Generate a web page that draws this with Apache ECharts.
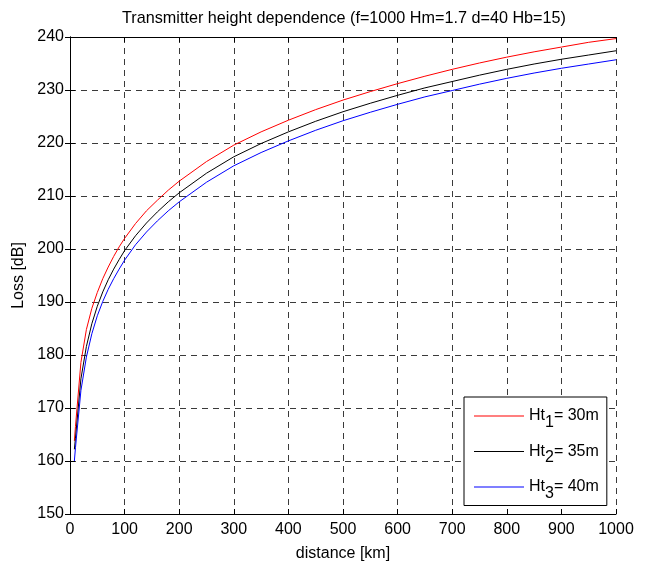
<!DOCTYPE html>
<html>
<head>
<meta charset="utf-8">
<script src="https://cdn.jsdelivr.net/npm/echarts@6/dist/echarts.min.js"></script>
<style>
  html, body { margin: 0; padding: 0; background: #fff; }
  #chart { width: 649px; height: 567px; }
</style>
</head>
<body>
<div id="chart"></div>
<script>
// Distance samples [km]
const distance = [8, 10, 20, 30, 40, 50, 60, 70, 80, 90, 100, 120, 140, 160, 180, 200,
  250, 300, 350, 400, 450, 500, 550, 600, 650, 700, 750, 800, 850, 900, 950, 1000];

// Path loss [dB] for each transmitter height
const lossHt30 = [163.8, 166.5, 178.6, 184.8, 188.8, 191.8, 194.4, 196.6, 198.6, 200.4, 202.0,
  204.8, 207.2, 209.2, 211.1, 212.8, 216.5, 219.6, 222.1, 224.3, 226.3, 228.1, 229.7, 231.2,
  232.6, 233.9, 235.1, 236.2, 237.2, 238.1, 239.0, 239.7];
const lossHt35 = [162.2, 164.3, 175.5, 181.6, 185.9, 189.2, 191.9, 194.2, 196.2, 198.0, 199.7,
  202.5, 204.9, 207.0, 208.9, 210.6, 214.3, 217.4, 219.9, 222.1, 224.1, 225.9, 227.5, 229.0,
  230.4, 231.6, 232.8, 233.9, 234.9, 235.8, 236.6, 237.4];
const lossHt40 = [160.0, 162.5, 173.3, 179.6, 184.0, 187.4, 190.1, 192.4, 194.4, 196.2, 197.9,
  200.8, 203.2, 205.3, 207.2, 208.9, 212.6, 215.7, 218.2, 220.4, 222.4, 224.2, 225.8, 227.3,
  228.7, 229.9, 231.1, 232.2, 233.2, 234.1, 234.9, 235.7];

// Legend entries: transmitter height label, subscript index, value
const seriesNames = ['Ht1= 30m', 'Ht2= 35m', 'Ht3= 40m'];
const seriesColors = ['#ff0000', '#000000', '#0000ff'];
const seriesData = [lossHt30, lossHt35, lossHt40];

const titleText = 'Transmitter height dependence (f=1000 Hm=1.7 d=40 Hb=15)';
const xName = 'distance [km]';
const yName = 'Loss [dB]';

const FONT = '"Liberation Sans", Arial, sans-serif';
const FS = 16;

const chart = echarts.init(document.getElementById('chart'), null, { renderer: 'canvas' });

const gridLine = { show: true, lineStyle: { color: '#3a3a3a', width: 1, type: [6, 5] } };
const tickIn = { show: true, inside: true, length: 5, lineStyle: { color: '#000' } };
const axisLine = { show: true, lineStyle: { color: '#000', width: 1 } };
const labelStyle = { color: '#000', fontSize: FS, fontFamily: FONT };

// "Ht1= 30m" -> "Ht" + subscript "1" + "= 30m"
const subFormat = n => n.replace(/^Ht(\d)/, 'Ht{s|$1}');

chart.setOption({
  animation: false,
  backgroundColor: '#fff',
  title: {
    text: titleText,
    left: 339, top: 6, textAlign: 'center',
    textStyle: { fontSize: 16.2, fontWeight: 'normal', color: '#000', fontFamily: FONT }
  },
  grid: { left: 70, right: 33, top: 37, bottom: 52 },
  xAxis: [
    {
      type: 'value', min: 0, max: 1000, interval: 100,
      name: xName, nameLocation: 'middle', nameGap: 32,
      nameTextStyle: labelStyle,
      axisLine, axisTick: tickIn, splitLine: gridLine,
      axisLabel: Object.assign({ margin: 8, formatter: v => String(v) }, labelStyle)
    },
    {
      type: 'value', position: 'top', min: 0, max: 1000, interval: 100,
      axisLine, axisTick: tickIn, splitLine: { show: false }, axisLabel: { show: false }
    }
  ],
  yAxis: [
    {
      type: 'value', min: 150, max: 240, interval: 10,
      name: yName, nameLocation: 'middle', nameGap: 35,
      nameTextStyle: labelStyle,
      axisLine, axisTick: tickIn, splitLine: gridLine,
      axisLabel: Object.assign({ margin: 6, formatter: v => String(v) }, labelStyle)
    },
    {
      type: 'value', position: 'right', min: 150, max: 240, interval: 10,
      axisLine, axisTick: tickIn, splitLine: { show: false }, axisLabel: { show: false }
    }
  ],
  legend: {
    orient: 'vertical',
    left: 464, top: 397,
    padding: [11, 8, 4, 10],
    itemGap: 13,
    itemWidth: 50, itemHeight: 1,
    icon: 'rect',
    backgroundColor: '#fff',
    borderColor: '#000', borderWidth: 1,
    borderRadius: 0,
    data: seriesNames,
    textStyle: {
      fontSize: FS, color: '#000', fontFamily: FONT,
      rich: { s: { fontSize: FS, color: '#000', fontFamily: FONT, padding: [13, 0, 0, 0] } }
    },
    formatter: subFormat
  },
  series: seriesData.map((vals, i) => ({
    name: seriesNames[i],
    type: 'line',
    symbol: 'none',
    lineStyle: { color: seriesColors[i], width: 1 },
    itemStyle: { color: seriesColors[i] },
    data: distance.map((d, k) => [d, vals[k]])
  }))
});
</script>
</body>
</html>
